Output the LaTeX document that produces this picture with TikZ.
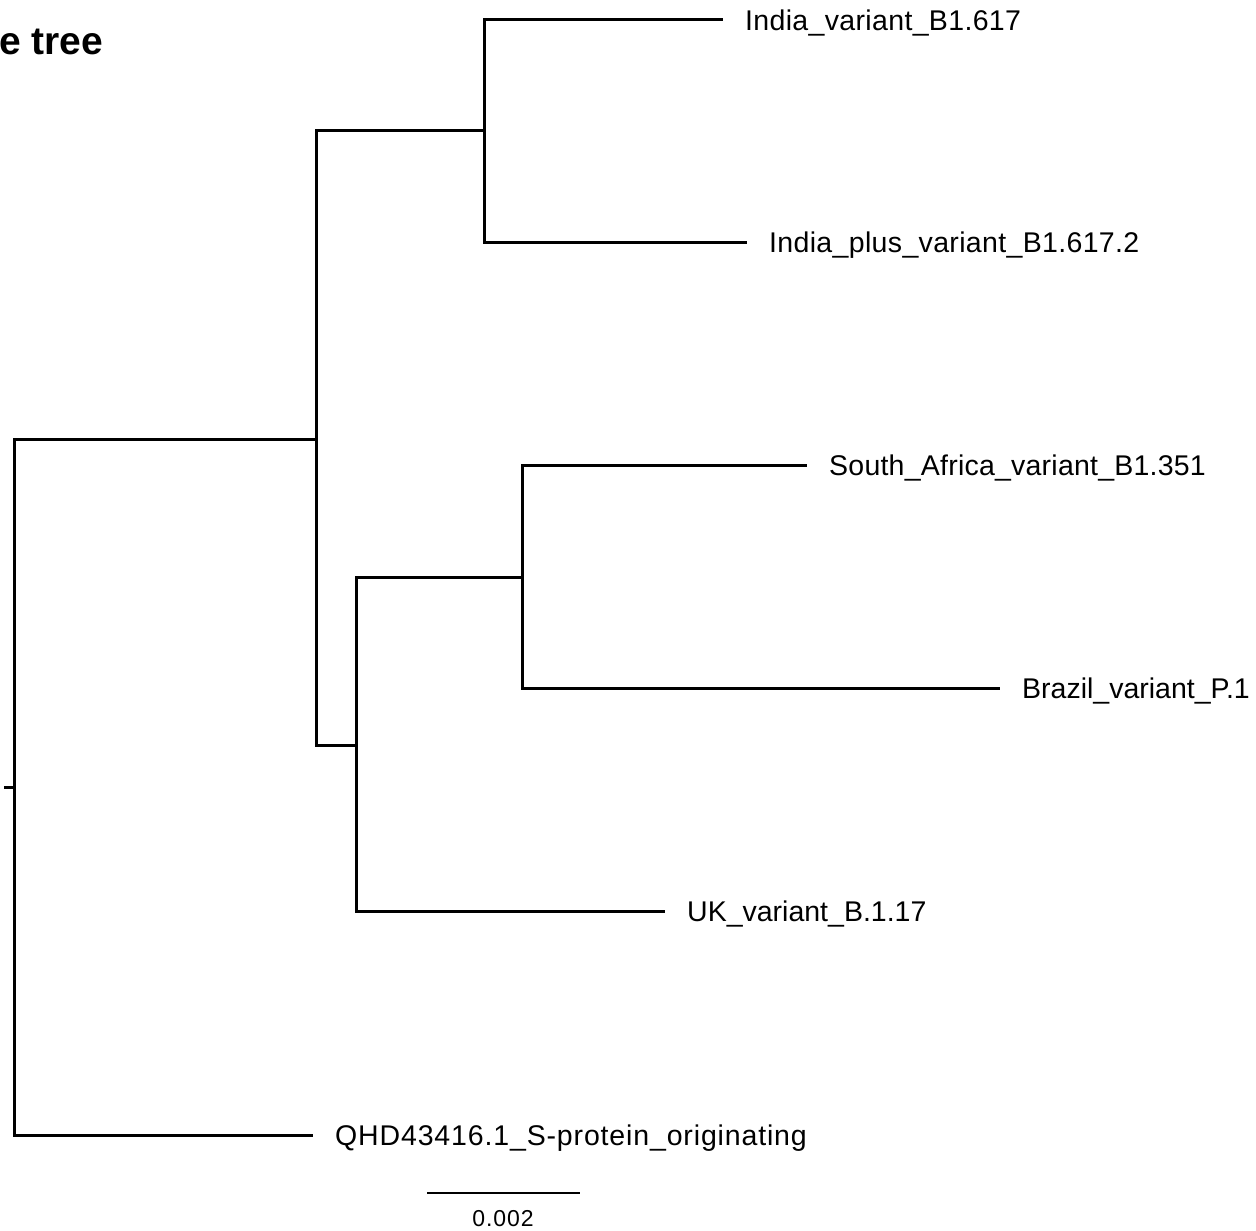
\documentclass[tikz,border=0pt]{standalone}
\usepackage{fontspec}
\setmainfont{Liberation Sans}
\begin{document}
\begin{tikzpicture}[x=1pt,y=-1pt,
  branch/.style={line width=3pt,line cap=rect},
  leaflabel/.style={anchor=base west,inner sep=0pt,xshift=24pt,yshift=-10.5pt,font=\fontsize{28.5}{34}\selectfont},
  scalelabel/.style={inner sep=0pt,font=\fontsize{23}{27}\selectfont\addfontfeature{LetterSpace=4}},
  titlelabel/.style={anchor=base west,inner sep=0pt,font=\fontsize{39}{46}\selectfont\bfseries}]
\useasboundingbox (0,0) rectangle (1256,1231);
% internal nodes
\coordinate (stub) at (5,787);
\coordinate (root) at (14,787);
\coordinate (nA) at (316,439);
\coordinate (nB) at (484,130);
\coordinate (nC) at (316,745);
\coordinate (nC2) at (356,745);
\coordinate (nD) at (522,577);
% leaves
\coordinate (lIndia) at (721,20);
\coordinate (lIndiaPlus) at (745,242);
\coordinate (lSA) at (805,465);
\coordinate (lBrazil) at (998,688);
\coordinate (lUK) at (663,911);
\coordinate (lQHD) at (311,1135);
% branches
\draw[branch] (stub) -- (root);
\draw[branch] (nA) -| (root |- nA) -- (root |- lQHD) -- (lQHD);
\draw[branch] (nB) -| (nA |- nB) -- (nA |- nC) -- (nC2);
\draw[branch] (lIndia) -| (nB |- lIndia) -- (nB |- lIndiaPlus) -- (lIndiaPlus);
\draw[branch] (nD) -| (nC2 |- nD) -- (nC2 |- lUK) -- (lUK);
\draw[branch] (lSA) -| (nD |- lSA) -- (nD |- lBrazil) -- (lBrazil);
% labels
\node[leaflabel] (tIndia) at (lIndia) {\addfontfeature{LetterSpace=1.2}India\_variant\_B1.617};
\node[leaflabel] (tIndiaPlus) at (lIndiaPlus) {\addfontfeature{LetterSpace=1.2}India\_plus\_variant\_B1.617.2};
\node[leaflabel] (tSA) at (lSA) {\addfontfeature{LetterSpace=0.8}South\_Africa\_variant\_B1.351};
\node[leaflabel] (tBrazil) at (lBrazil) {Brazil\_variant\_P.1};
\node[leaflabel] (tUK) at (lUK) {UK\_variant\_B.1.17};
\node[leaflabel] (tQHD) at (lQHD) {\addfontfeature{LetterSpace=3}QHD43416.1\_S-protein\_originating};
% scale bar
\coordinate (sbL) at (427,1193);
\coordinate (sbR) at (580,1193);
\draw[line width=2pt] (sbL) -- (sbR);
\node[scalelabel] (sbt) at (503,1219) {0.002};
% title
\node[titlelabel] (title) at (-1,55) {e tree};
\end{tikzpicture}
\end{document}
